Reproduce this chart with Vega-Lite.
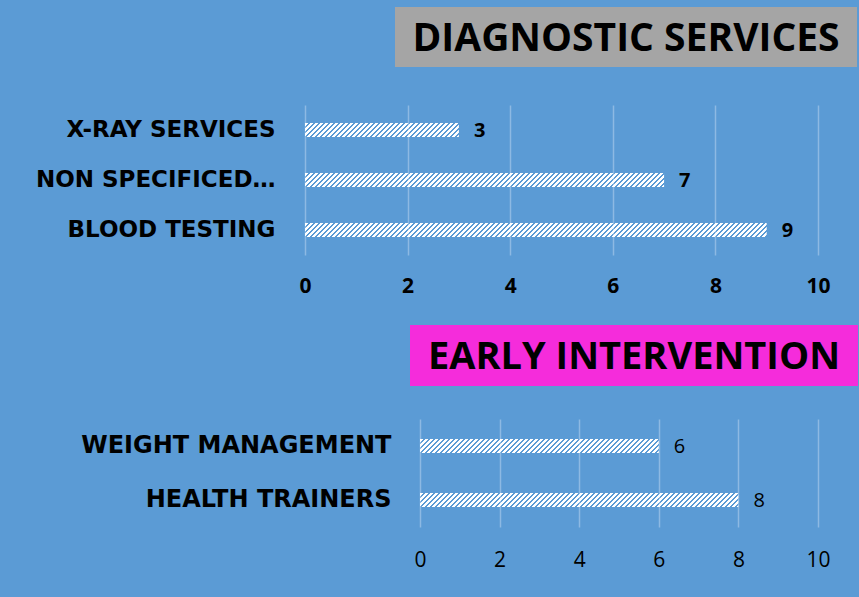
{
  "$schema": "https://vega.github.io/schema/vega-lite/v6.json",
  "background": "#5B9BD5",
  "padding": {"left": 0, "top": 7, "right": 10, "bottom": 40},
  "config": {"view": {"stroke": null}},
  "spacing": 0,
  "vconcat": [
    {
      "bounds": "flush", "spacing": 0,
      "hconcat": [
        {"width": 395, "height": 60, "data": {"values": []}, "mark": "point", "encoding": {}},
        {
          "width": 462, "height": 60,
          "view": {"fill": "#A5A5A5", "stroke": null},
          "data": {"values": [{"label": "DIAGNOSTIC SERVICES"}]},
          "mark": {"type": "text", "font": "Open Sans", "fontWeight": "bold", "fontSize": 39, "color": "black", "baseline": "middle", "dy": 2},
          "encoding": {"text": {"field": "label"}}
        }
      ]
    },
    {"width": 1, "height": 38, "data": {"values": []}, "mark": "point", "encoding": {}},
    {
      "bounds": "flush", "spacing": 0,
      "hconcat": [
        {"width": 305, "height": 150, "data": {"values": []}, "mark": "point", "encoding": {}},
        {
          "width": 513, "height": 150,
          "data": {"values": [
            {"category": "X-RAY SERVICES", "value": 3},
            {"category": "NON SPECIFICED…", "value": 7},
            {"category": "BLOOD TESTING", "value": 9}
          ]},
          "encoding": {
            "y": {"field": "category", "type": "nominal", "sort": null,
              "scale": {"type": "band", "paddingInner": 0, "paddingOuter": 0},
              "axis": {"title": null, "domain": false, "ticks": false, "grid": false, "labelFont": "DejaVu Sans", "labelFontWeight": "bold", "labelFontSize": 23, "labelColor": "black", "labelPadding": 30, "labelLimit": 600}},
            "x": {"field": "value", "type": "quantitative",
              "scale": {"domain": [0, 10], "nice": false},
              "axis": {"title": null, "values": [0, 2, 4, 6, 8, 10], "domain": false, "ticks": false, "grid": true, "gridColor": "#8DB9E3", "gridWidth": 1.5, "labelFont": "Open Sans", "labelFontWeight": "bold", "labelFontSize": 21, "labelColor": "black", "labelPadding": 20, "labelFlush": false}}
          },
          "layer": [
            {"mark": {"type": "rule", "color": "white", "strokeWidth": 1, "strokeDash": [3, 2], "strokeDashOffset": 0, "yOffset": -6.5}, "encoding": {"x": {"datum": 0, "type": "quantitative"}, "x2": {"field": "value"}}},
            {"mark": {"type": "rule", "color": "white", "strokeWidth": 1, "strokeDash": [3, 2], "strokeDashOffset": 1, "yOffset": -5.5}, "encoding": {"x": {"datum": 0, "type": "quantitative"}, "x2": {"field": "value"}}},
            {"mark": {"type": "rule", "color": "white", "strokeWidth": 1, "strokeDash": [3, 2], "strokeDashOffset": 2, "yOffset": -4.5}, "encoding": {"x": {"datum": 0, "type": "quantitative"}, "x2": {"field": "value"}}},
            {"mark": {"type": "rule", "color": "white", "strokeWidth": 1, "strokeDash": [3, 2], "strokeDashOffset": 3, "yOffset": -3.5}, "encoding": {"x": {"datum": 0, "type": "quantitative"}, "x2": {"field": "value"}}},
            {"mark": {"type": "rule", "color": "white", "strokeWidth": 1, "strokeDash": [3, 2], "strokeDashOffset": 4, "yOffset": -2.5}, "encoding": {"x": {"datum": 0, "type": "quantitative"}, "x2": {"field": "value"}}},
            {"mark": {"type": "rule", "color": "white", "strokeWidth": 1, "strokeDash": [3, 2], "strokeDashOffset": 0, "yOffset": -1.5}, "encoding": {"x": {"datum": 0, "type": "quantitative"}, "x2": {"field": "value"}}},
            {"mark": {"type": "rule", "color": "white", "strokeWidth": 1, "strokeDash": [3, 2], "strokeDashOffset": 1, "yOffset": -0.5}, "encoding": {"x": {"datum": 0, "type": "quantitative"}, "x2": {"field": "value"}}},
            {"mark": {"type": "rule", "color": "white", "strokeWidth": 1, "strokeDash": [3, 2], "strokeDashOffset": 2, "yOffset": 0.5}, "encoding": {"x": {"datum": 0, "type": "quantitative"}, "x2": {"field": "value"}}},
            {"mark": {"type": "rule", "color": "white", "strokeWidth": 1, "strokeDash": [3, 2], "strokeDashOffset": 3, "yOffset": 1.5}, "encoding": {"x": {"datum": 0, "type": "quantitative"}, "x2": {"field": "value"}}},
            {"mark": {"type": "rule", "color": "white", "strokeWidth": 1, "strokeDash": [3, 2], "strokeDashOffset": 4, "yOffset": 2.5}, "encoding": {"x": {"datum": 0, "type": "quantitative"}, "x2": {"field": "value"}}},
            {"mark": {"type": "rule", "color": "white", "strokeWidth": 1, "strokeDash": [3, 2], "strokeDashOffset": 0, "yOffset": 3.5}, "encoding": {"x": {"datum": 0, "type": "quantitative"}, "x2": {"field": "value"}}},
            {"mark": {"type": "rule", "color": "white", "strokeWidth": 1, "strokeDash": [3, 2], "strokeDashOffset": 1, "yOffset": 4.5}, "encoding": {"x": {"datum": 0, "type": "quantitative"}, "x2": {"field": "value"}}},
            {"mark": {"type": "rule", "color": "white", "strokeWidth": 1, "strokeDash": [3, 2], "strokeDashOffset": 2, "yOffset": 5.5}, "encoding": {"x": {"datum": 0, "type": "quantitative"}, "x2": {"field": "value"}}},
            {"mark": {"type": "rule", "color": "white", "strokeWidth": 1, "strokeDash": [3, 2], "strokeDashOffset": 3, "yOffset": 6.5}, "encoding": {"x": {"datum": 0, "type": "quantitative"}, "x2": {"field": "value"}}},
            {"mark": {"type": "text", "align": "left", "baseline": "middle", "dx": 15, "dy": 1, "font": "Open Sans", "fontWeight": "bold", "fontSize": 20, "color": "black"}, "encoding": {"text": {"field": "value"}}}
          ]
        }
      ]
    },
    {"width": 1, "height": 29, "data": {"values": []}, "mark": "point", "encoding": {}},
    {
      "bounds": "flush", "spacing": 0,
      "hconcat": [
        {"width": 410, "height": 61, "data": {"values": []}, "mark": "point", "encoding": {}},
        {
          "width": 448, "height": 61,
          "view": {"fill": "#F52CDB", "stroke": null},
          "data": {"values": [{"label": "EARLY INTERVENTION"}]},
          "mark": {"type": "text", "font": "Open Sans", "fontWeight": "bold", "fontSize": 38, "color": "black", "baseline": "middle", "dy": 2},
          "encoding": {"text": {"field": "label"}}
        }
      ]
    },
    {"width": 1, "height": 33, "data": {"values": []}, "mark": "point", "encoding": {}},
    {
      "bounds": "flush", "spacing": 0,
      "hconcat": [
        {"width": 420, "height": 108, "data": {"values": []}, "mark": "point", "encoding": {}},
        {
          "width": 398, "height": 108,
          "data": {"values": [
            {"category": "WEIGHT MANAGEMENT", "value": 6},
            {"category": "HEALTH TRAINERS", "value": 8}
          ]},
          "encoding": {
            "y": {"field": "category", "type": "nominal", "sort": null,
              "scale": {"type": "band", "paddingInner": 0, "paddingOuter": 0},
              "axis": {"title": null, "domain": false, "ticks": false, "grid": false, "labelFont": "DejaVu Sans", "labelFontWeight": "bold", "labelFontSize": 24, "labelColor": "black", "labelPadding": 29, "labelLimit": 600}},
            "x": {"field": "value", "type": "quantitative",
              "scale": {"domain": [0, 10], "nice": false},
              "axis": {"title": null, "values": [0, 2, 4, 6, 8, 10], "domain": false, "ticks": false, "grid": true, "gridColor": "#8DB9E3", "gridWidth": 1.5, "labelFont": "Open Sans", "labelFontWeight": "normal", "labelFontSize": 21, "labelColor": "black", "labelPadding": 22, "labelFlush": false}}
          },
          "layer": [
            {"mark": {"type": "rule", "color": "white", "strokeWidth": 1, "strokeDash": [3, 2], "strokeDashOffset": 0, "yOffset": -6.5}, "encoding": {"x": {"datum": 0, "type": "quantitative"}, "x2": {"field": "value"}}},
            {"mark": {"type": "rule", "color": "white", "strokeWidth": 1, "strokeDash": [3, 2], "strokeDashOffset": 1, "yOffset": -5.5}, "encoding": {"x": {"datum": 0, "type": "quantitative"}, "x2": {"field": "value"}}},
            {"mark": {"type": "rule", "color": "white", "strokeWidth": 1, "strokeDash": [3, 2], "strokeDashOffset": 2, "yOffset": -4.5}, "encoding": {"x": {"datum": 0, "type": "quantitative"}, "x2": {"field": "value"}}},
            {"mark": {"type": "rule", "color": "white", "strokeWidth": 1, "strokeDash": [3, 2], "strokeDashOffset": 3, "yOffset": -3.5}, "encoding": {"x": {"datum": 0, "type": "quantitative"}, "x2": {"field": "value"}}},
            {"mark": {"type": "rule", "color": "white", "strokeWidth": 1, "strokeDash": [3, 2], "strokeDashOffset": 4, "yOffset": -2.5}, "encoding": {"x": {"datum": 0, "type": "quantitative"}, "x2": {"field": "value"}}},
            {"mark": {"type": "rule", "color": "white", "strokeWidth": 1, "strokeDash": [3, 2], "strokeDashOffset": 0, "yOffset": -1.5}, "encoding": {"x": {"datum": 0, "type": "quantitative"}, "x2": {"field": "value"}}},
            {"mark": {"type": "rule", "color": "white", "strokeWidth": 1, "strokeDash": [3, 2], "strokeDashOffset": 1, "yOffset": -0.5}, "encoding": {"x": {"datum": 0, "type": "quantitative"}, "x2": {"field": "value"}}},
            {"mark": {"type": "rule", "color": "white", "strokeWidth": 1, "strokeDash": [3, 2], "strokeDashOffset": 2, "yOffset": 0.5}, "encoding": {"x": {"datum": 0, "type": "quantitative"}, "x2": {"field": "value"}}},
            {"mark": {"type": "rule", "color": "white", "strokeWidth": 1, "strokeDash": [3, 2], "strokeDashOffset": 3, "yOffset": 1.5}, "encoding": {"x": {"datum": 0, "type": "quantitative"}, "x2": {"field": "value"}}},
            {"mark": {"type": "rule", "color": "white", "strokeWidth": 1, "strokeDash": [3, 2], "strokeDashOffset": 4, "yOffset": 2.5}, "encoding": {"x": {"datum": 0, "type": "quantitative"}, "x2": {"field": "value"}}},
            {"mark": {"type": "rule", "color": "white", "strokeWidth": 1, "strokeDash": [3, 2], "strokeDashOffset": 0, "yOffset": 3.5}, "encoding": {"x": {"datum": 0, "type": "quantitative"}, "x2": {"field": "value"}}},
            {"mark": {"type": "rule", "color": "white", "strokeWidth": 1, "strokeDash": [3, 2], "strokeDashOffset": 1, "yOffset": 4.5}, "encoding": {"x": {"datum": 0, "type": "quantitative"}, "x2": {"field": "value"}}},
            {"mark": {"type": "rule", "color": "white", "strokeWidth": 1, "strokeDash": [3, 2], "strokeDashOffset": 2, "yOffset": 5.5}, "encoding": {"x": {"datum": 0, "type": "quantitative"}, "x2": {"field": "value"}}},
            {"mark": {"type": "rule", "color": "white", "strokeWidth": 1, "strokeDash": [3, 2], "strokeDashOffset": 3, "yOffset": 6.5}, "encoding": {"x": {"datum": 0, "type": "quantitative"}, "x2": {"field": "value"}}},
            {"mark": {"type": "text", "align": "left", "baseline": "middle", "dx": 15, "dy": 1, "font": "Open Sans", "fontWeight": "normal", "fontSize": 20, "color": "black"}, "encoding": {"text": {"field": "value"}}}
          ]
        }
      ]
    }
  ]
}
